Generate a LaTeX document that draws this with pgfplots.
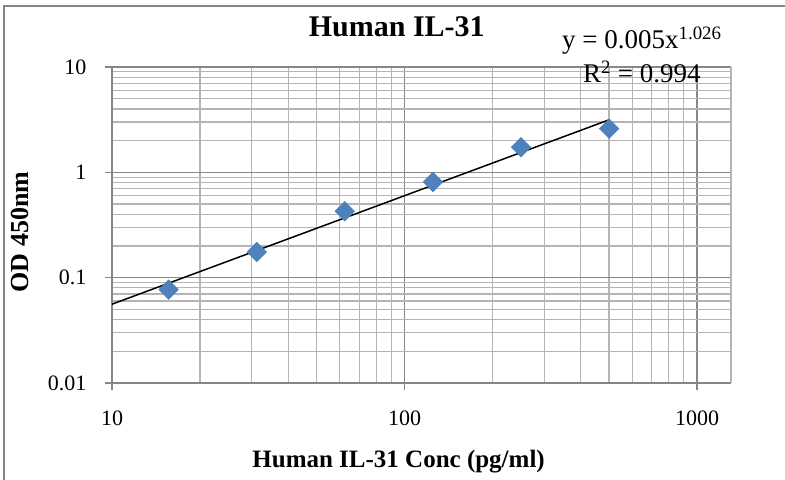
\documentclass[border=0pt]{standalone}
\usepackage{fontspec}
\setmainfont{Liberation Serif}
\usepackage{pgfplots}
\pgfplotsset{compat=1.18}
\definecolor{excelblue}{HTML}{4F81BD}
\definecolor{majgrid}{HTML}{888888}
\definecolor{mingrid}{HTML}{B4B4B4}
\definecolor{axgray}{HTML}{868686}

\begin{document}
\begin{tikzpicture}
\path[use as bounding box] (0,0) rectangle (785bp,480bp);
\draw[axgray, line width=2bp] (4bp,-20bp) -- (4bp,474bp) -- (800bp,474bp);
\begin{axis}[
    at={(112bp,97bp)}, anchor=south west,
    scale only axis, width=619bp, height=316bp,
    xmode=log, ymode=log,
    xmin=10, xmax=1306, ymin=0.01, ymax=10,
    xtick={10,100,1000}, ytick={0.01,0.1,1,10},
    xticklabels={10,100,1000}, yticklabels={0.01,0.1,1,10},
    axis x line*=bottom, axis y line*=left,
    grid=both,
    major grid style={majgrid, line width=1.2bp},
    minor grid style={mingrid, line width=1.2bp},
    axis line style={axgray, line width=1.5bp},
    tick style={axgray, line width=1.2bp},
    major tick length=7bp, minor tick length=0pt, tick align=outside,
    extra x ticks={1306}, extra x tick labels={},
    extra x tick style={grid=major, major grid style={mingrid, line width=1.2bp}, major tick length=0pt},
    /pgf/number format/assume math mode=true,
    ticklabel style={font=\fontsize{22bp}{22bp}\selectfont},
    xticklabel style={yshift=-17bp},
    yticklabel style={xshift=-15bp},
    clip=false,
    title={Human IL-31},
    title style={at={(axis description cs:0.460,1.108)}, anchor=center, font=\fontsize{30bp}{30bp}\selectfont\bfseries},
    xlabel={Human IL-31 Conc (pg/ml)},
    xlabel style={at={(axis description cs:0.463,-0.25)}, anchor=center, font=\fontsize{25bp}{25bp}\selectfont\bfseries},
    ylabel={OD 450nm},
    ylabel style={at={(axis description cs:-0.149,0.478)}, anchor=center, font=\fontsize{26bp}{26bp}\selectfont\bfseries},
]
\addplot[only marks, mark=square*, mark size=7pt,
    mark options={rotate=45, fill=excelblue, draw=excelblue}]
    coordinates {(15.625,0.077) (31.25,0.175) (62.5,0.427) (125,0.81) (250,1.73) (500,2.6)};
\addplot[black, line width=1.5bp, no marks]
    coordinates {(10,0.056) (500,3.15)};
\node[font=\fontsize{27bp}{27bp}\selectfont] at (axis description cs:0.856,1.085) {y = 0.005x\textsuperscript{1.026}};
\node[font=\fontsize{27bp}{27bp}\selectfont] at (axis description cs:0.856,0.984) {R\textsuperscript{2} = 0.994};
\end{axis}
\end{tikzpicture}
\end{document}
